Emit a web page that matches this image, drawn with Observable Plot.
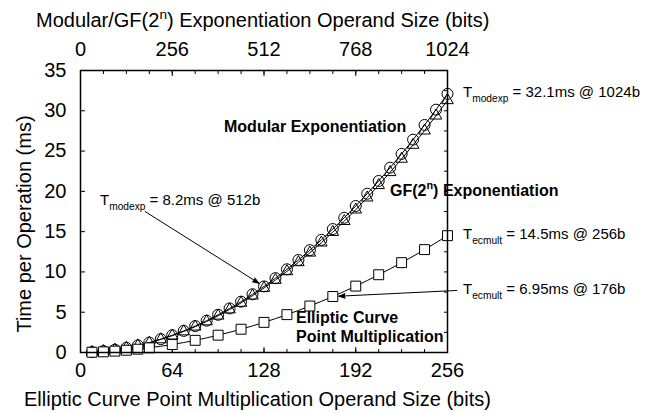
<!DOCTYPE html>
<html>
<head>
<meta charset="utf-8">
<script src="https://cdn.jsdelivr.net/npm/d3@7"></script>
<script src="https://cdn.jsdelivr.net/npm/@observablehq/plot@0.6"></script>
<style>
html,body{margin:0;padding:0;background:#fff;}
#chart svg{display:block;}
</style>
</head>
<body>
<div id="chart"></div>
<script>
// Modular / GF(2^n) exponentiation operand sizes (bits, top axis)
const expBits = [32,64,96,128,160,192,224,256,288,320,352,384,416,448,480,512,544,576,608,640,672,704,736,768,800,832,864,896,928,960,992,1024];
const modexpMs = [0.05,0.17,0.34,0.58,0.88,1.23,1.66,2.14,2.68,3.28,3.95,4.68,5.47,6.31,7.23,8.2,9.23,10.33,11.48,12.7,13.98,15.32,16.72,18.18,19.71,21.29,22.94,24.65,26.42,28.24,30.14,32.1];
const gfexpMs  = [0.05,0.16,0.33,0.56,0.86,1.2,1.62,2.09,2.61,3.2,3.85,4.56,5.33,6.15,7.05,8.0,9.0,10.07,11.19,12.38,13.63,14.94,16.3,17.73,19.22,20.76,22.37,24.03,25.76,27.53,29.39,31.3];
// Elliptic curve point multiplication operand sizes (bits, bottom axis)
const ecBits = [8,16,24,32,40,48,64,80,96,112,128,144,160,176,192,208,224,240,256];
const ecmultMs = [0.03,0.08,0.17,0.28,0.41,0.58,0.99,1.51,2.15,2.89,3.74,4.7,5.77,6.95,8.24,9.65,11.15,12.77,14.5];
// Axis ticks
const bottomTicks = [0,64,128,192,256];
const topTickLabels = ["0","256","512","768","1024"];
const yTicks = [0,5,10,15,20,25,30,35];
const bitsRatio = +topTickLabels[4] / bottomTicks[4];

const modData = expBits.map((b, i) => ({bits: b / bitsRatio, ms: modexpMs[i]}));
const gfData = expBits.map((b, i) => ({bits: b / bitsRatio, ms: gfexpMs[i]}));
const ecData = ecBits.map((b, i) => ({bits: b, ms: ecmultMs[i]}));
const arrows = [
  {x1: 45, y1: 17.5, x2: expBits[15] / bitsRatio, y2: modexpMs[15]},
  {x1: 262.5, y1: 7.7, x2: ecBits[13], y2: ecmultMs[13]}
];

const FONT = "'Liberation Sans', Arial, Helvetica, sans-serif";
const plot = Plot.plot({
  width: 650, height: 413,
  marginLeft: 80, marginRight: 203, marginTop: 70, marginBottom: 61,
  style: {fontFamily: FONT, color: "#000", background: "#fff", overflow: "visible"},
  x: {domain: [0, 256]},
  y: {domain: [0, 35]},
  marks: [
    Plot.axisX(bottomTicks, {anchor: "bottom", tickSize: -5, tickPadding: 15, label: null, fontSize: 20}),
    Plot.axisX(d3.range(0, 257, 16), {anchor: "bottom", tickSize: -3, tickFormat: () => "", label: null}),
    Plot.axisX(bottomTicks, {anchor: "top", tickSize: -5, tickPadding: 20, label: null, fontSize: 20,
      tickFormat: d => topTickLabels[bottomTicks.indexOf(d)]}),
    Plot.axisX(d3.range(0, 257, 16), {anchor: "top", tickSize: -3, tickFormat: () => "", label: null}),
    Plot.axisY(yTicks, {anchor: "left", tickSize: -5, tickPadding: 19, label: null, fontSize: 20}),
    Plot.axisY(d3.range(0, 35.1, 2.5), {anchor: "right", tickSize: -4, tickFormat: () => "", label: null}),
    Plot.line(modData, {x: "bits", y: "ms", stroke: "#000", strokeWidth: 1, curve: "monotone-x"}),
    Plot.line(gfData, {x: "bits", y: "ms", stroke: "#000", strokeWidth: 1, curve: "monotone-x"}),
    Plot.line(ecData, {x: "bits", y: "ms", stroke: "#000", strokeWidth: 1, curve: "monotone-x"}),
    Plot.dot(gfData, {x: "bits", y: "ms", symbol: "triangle", r: 4.3, stroke: "#000", fill: "none", strokeWidth: 1}),
    Plot.dot(modData, {x: "bits", y: "ms", r: 5.5, stroke: "#000", fill: "none", strokeWidth: 1}),
    Plot.dot(ecData, {x: "bits", y: "ms", symbol: "square", r: 5.6, stroke: "#000", fill: "#fff", strokeWidth: 1}),
    Plot.arrow(arrows, {x1: "x1", y1: "y1", x2: "x2", y2: "y2", stroke: "#000", strokeWidth: 1, headLength: 10, headAngle: 40, insetEnd: 6}),
    Plot.frame({stroke: "#000", strokeWidth: 1.5})
  ]
});
document.getElementById("chart").append(plot);

const svg = d3.select(plot);
// filled arrow heads
svg.selectAll('g[aria-label="arrow"] path').attr("fill", "#000").attr("stroke-linejoin", "miter");

function rich(x, y, segs, {size = 15, weight = "normal", anchor = "start", rotate = null} = {}) {
  const t = svg.append("text").attr("x", x).attr("y", y)
    .attr("font-family", FONT).attr("font-size", size).attr("font-weight", weight)
    .attr("text-anchor", anchor).attr("fill", "#000");
  if (rotate != null) t.attr("transform", `rotate(${rotate},${x},${y})`);
  let shift = 0;
  for (const s of segs) {
    const sp = t.append("tspan").text(s.t);
    const target = s.sub ? size * 0.3 : s.sup ? -size * 0.42 : 0;
    if (target !== shift) { sp.attr("dy", target - shift); shift = target; }
    if (s.sub || s.sup) sp.attr("font-size", size * 0.68);
  }
  return t;
}
// Axis titles
rich(36, 27, [{t: "Modular/GF(2"}, {t: "n", sup: true}, {t: ") Exponentiation Operand Size (bits)"}], {size: 20});
rich(24, 406, [{t: "Elliptic Curve Point Multiplication Operand Size (bits)"}], {size: 20});
rich(31, 224, [{t: "Time per Operation (ms)"}], {size: 20, anchor: "middle", rotate: -90});
// Annotations
rich(463, 97, [{t: "T"}, {t: "modexp", sub: true}, {t: " = 32.1ms @ 1024b"}]);
rich(100, 205, [{t: "T"}, {t: "modexp", sub: true}, {t: " = 8.2ms @ 512b"}]);
rich(463, 239, [{t: "T"}, {t: "ecmult", sub: true}, {t: " = 14.5ms @ 256b"}]);
rich(463, 294, [{t: "T"}, {t: "ecmult", sub: true}, {t: " = 6.95ms @ 176b"}]);
rich(224, 132, [{t: "Modular Exponentiation"}], {size: 16, weight: "bold"});
rich(390, 196, [{t: "GF(2"}, {t: "n", sup: true}, {t: ") Exponentiation"}], {size: 16, weight: "bold"});
rich(296, 323, [{t: "Elliptic Curve"}], {size: 16, weight: "bold"});
rich(296, 342, [{t: "Point Multiplication"}], {size: 16, weight: "bold"});
</script>
</body>
</html>
